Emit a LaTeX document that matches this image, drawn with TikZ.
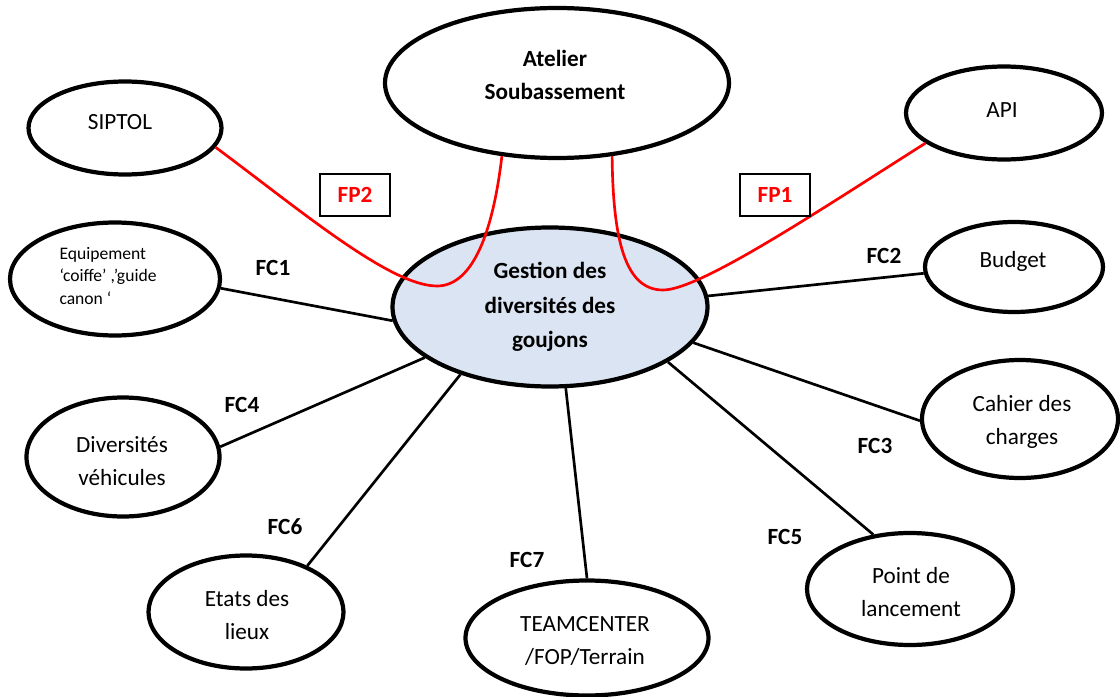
\documentclass[tikz,border=0pt]{standalone}
\usepackage{fontspec}
\setmainfont{Carlito}
\usetikzlibrary{shapes.geometric}
\definecolor{centrefill}{RGB}{219,228,242}

\begin{document}
\begin{tikzpicture}[x=0.025cm, y=-0.025cm,
  bubble/.style 2 args={ellipse, draw, line width=3pt, inner sep=0pt,
    minimum width=#1*0.025cm, minimum height=#2*0.025cm},
  txt/.style={inner sep=0pt, align=center, font=\fontsize{16.5}{23.5}\selectfont},
  link/.style={line width=1.9pt},
  redlink/.style={line width=1.9pt, red},
  fc/.style={inner sep=0pt, font=\fontsize{16.5}{20}\selectfont\bfseries},
  fpbox/.style={draw, fill=white, line width=1.1pt, inner sep=0pt,
    minimum width=70*0.025cm, minimum height=42*0.025cm, text=red,
    font=\fontsize{16.5}{20}\selectfont\bfseries}]

\useasboundingbox (0,0) rectangle (1120,697);

% central function
\node[bubble={315}{159}, fill=centrefill, align=center,
  font=\fontsize{16.5}{24.5}\selectfont\bfseries]
  (centre) at (550,307) {Gestion des\\diversités des\\goujons};

% surrounding elements (outline, then text)
\node[bubble={344}{150}] (atel) at (557,83) {};
\node[txt, font=\fontsize{16.5}{24}\selectfont\bfseries] (atelT) at (555,75) {Atelier\\Soubassement};
\node[bubble={193}{93}] (sip) at (125,128) {};
\node[txt] (sipT) at (120,122) {SIPTOL};
\node[bubble={196}{93}] (api) at (1004,113) {};
\node[txt] (apiT) at (1002,110) {API};
\node[bubble={210}{113}] (equip) at (115,279) {};
\node[txt, align=left, font=\fontsize{12.5}{16.3}\selectfont]
  (equipT) at (108,276) {Equipement\\‘coiffe’ ,’guide\\canon ‘};
\node[bubble={178}{90}] (budget) at (1014,267) {};
\node[txt] (budgetT) at (1013,261) {Budget};
\node[bubble={196}{118}] (cahier) at (1020,419) {};
\node[txt] (cahierT) at (1022,421.5) {Cahier des\\charges};
\node[bubble={193}{119}] (divers) at (123,457) {};
\node[txt] (diversT) at (122,461) {Diversités\\véhicules};
\node[bubble={206}{112}] (point) at (910,589) {};
\node[txt] (pointT) at (911,592.5) {Point de\\lancement};
\node[bubble={195}{113}] (etats) at (246,612) {};
\node[txt] (etatsT) at (247,615) {Etats des\\lieux};
\node[bubble={243}{115}] (team) at (587,638) {};
\node[txt] (teamT) at (585,641) {TEAMCENTER\\/FOP/Terrain};

% constraint functions
\draw[link] (equip.-5) -- (centre.185);
\draw[link] (budget.184) -- (centre.4);
\draw[link] (cahier.181) -- (centre.-14);
\draw[link] (divers.6) -- (centre.202);
\draw[link] (point.124) -- (centre.-25);
\draw[link] (etats.37) -- (centre.217);
\draw[link] (team.90) -- (centre.-79);

% principal functions
\draw[redlink] (sip.-12) .. controls (300,210) and (390,286) .. (437,286)
  .. controls (470,286) and (492,240) .. (atel.-127);
\draw[redlink] (atel.-53) .. controls (613,240) and (625,290) .. (663,290)
  .. controls (700,290) and (820,210) .. (api.201);

% labels
\node[fc] (fc1) at (273,268) {FC1};
\node[fc] (fc2) at (884,256) {FC2};
\node[fc] (fc3) at (875,446) {FC3};
\node[fc] (fc4) at (242,405) {FC4};
\node[fc] (fc5) at (785,537) {FC5};
\node[fc] (fc6) at (285,527) {FC6};
\node[fc] (fc7) at (527,560) {FC7};
\node[fpbox] (fp2) at (355,195) {FP2};
\node[fpbox] (fp1) at (775,195) {FP1};
\end{tikzpicture}
\end{document}
